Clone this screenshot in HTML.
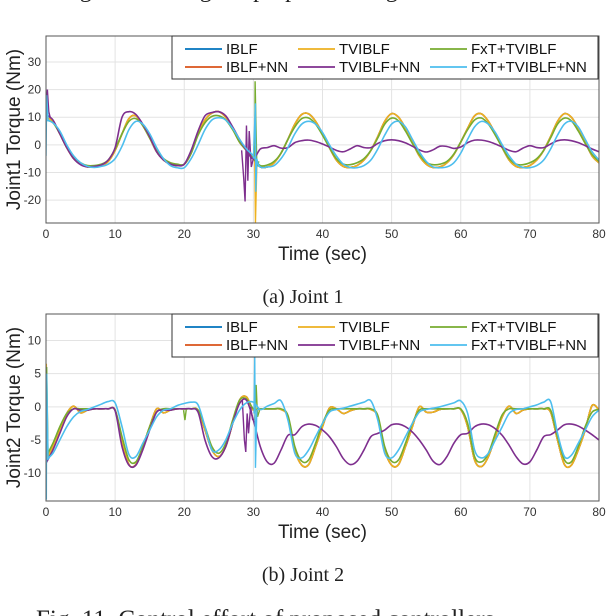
<!DOCTYPE html>
<html><head><meta charset="utf-8">
<style>
body{margin:0;background:#fff;width:606px;height:616px;overflow:hidden;font-family:"Liberation Sans",sans-serif;}
svg{position:absolute;left:0;top:0}
</style></head>
<body>
<svg id="svg" width="606" height="616" xmlns="http://www.w3.org/2000/svg">
<text x="6" y="-3" font-family="Liberation Serif,serif" font-size="24" fill="#222">Tracking errors using the proposed designs</text>
<text x="303" y="303" text-anchor="middle" font-family="Liberation Serif,serif" font-size="20" fill="#222">(a) Joint 1</text>
<text x="303" y="581" text-anchor="middle" font-family="Liberation Serif,serif" font-size="20" fill="#222">(b) Joint 2</text>
<text x="36" y="627" font-family="Liberation Serif,serif" font-size="25" fill="#222">Fig. 11. Control effort of proposed controllers.</text>
</svg>
<script>
const seriesNames=["IBLF","IBLF+NN","TVIBLF","TVIBLF+NN","FxT+TVIBLF","FxT+TVIBLF+NN"];
const seriesColors=["#0072BD","#D95319","#EDB120","#7E2F8E","#77AC30","#4DBEEE"];
const xTicks=[0,10,20,30,40,50,60,70,80];
const yTicks1=[-20,-10,0,10,20,30];
const yTicks2=[-10,-5,0,5,10];

const j1Tv=[10,8.5,4,-1,-5,-7,-8,-8,-7.5,-6,-2,4,9.5,10.5,7,2.5,-2.5,-5.5,-7,-7.5,-7,-3,4,9,11.5,12,10,6,1,-2,-5,-8,-8,-6.5,-3,2,7.5,11,11.2,8.5,4,-1,-5.5,-7.8,-8.2,-7.5,-5.5,-2,3,8.5,11.3,10,6,1,-4,-7,-8.2,-8,-6.5,-3.5,1,6,10.5,11.2,8.5,4,-1,-5.5,-7.8,-8.2,-7.5,-5.5,-2,3,8.5,11.3,10,6,1,-4,-6.5];
const j1Fx=[9,8,4,-1,-4.5,-6.5,-7.5,-7.5,-7,-5.5,-1.5,4,8.5,9.5,7,2.5,-2,-5,-6.5,-7,-7,-3,3.5,8,10.3,10.5,9,5.5,1,-2,-5,-7.5,-7.3,-6,-3,2,6.5,9.5,9.7,7.5,3.5,-1,-5,-7,-7.2,-6.5,-5,-2,2.5,7.5,9.7,8.7,5,0.5,-3.5,-6.3,-7.2,-7,-6,-3.3,1,5.5,9,9.7,7.5,3.5,-1,-5,-7,-7.2,-6.5,-5,-2,2.5,7.5,9.7,8.7,5,0.5,-3.5,-6];
const j1FxNN=[9,8,5,0,-4,-6.5,-7.8,-8.2,-7.8,-7,-5,-0.5,5.5,8.5,7.5,4,-1,-5,-7.5,-8.3,-8.3,-5,0,5.5,9,9.8,9,6,2,-1.5,-4,-8,-8,-7.5,-5,-1,4,7.5,8.5,7.5,4.5,0,-4,-7,-8.2,-8.3,-7.5,-5.5,-1.5,3.5,7.5,8.5,6.5,2,-2.5,-6,-8,-8.3,-8,-6.5,-3,2,6.5,8.5,7.5,4.5,0,-4,-7,-8.2,-8.3,-7.5,-5.5,-1.5,3.5,7.5,8.5,6.5,2,-2.5,-5.5];
const j1TvNN=[11,9,4,-1,-5,-7.2,-8,-7.8,-7.3,-5.5,-1,10,12,11,7.5,3,-2.5,-5.5,-7,-7.5,-7,-2,5,10.5,11.7,12,10.5,6.5,2,-2,-5,-1.5,-1,-0.3,-1.2,-1,0.8,1.5,1.7,1.2,0.3,-0.8,-2,-2.5,-1.5,-0.3,-1,-1,0.5,1.5,1.8,1.5,0.7,-0.5,-1.8,-2.6,-1.8,-0.5,-0.6,-1.3,-0.8,0.8,1.7,1.7,1.2,0.3,-0.8,-2,-2.5,-1.2,-0.3,-1,-1,0.3,1.5,1.8,1.5,0.8,-0.3,-1.5,-2.5];

const j2Tv=[-8,-6,-3.5,-1,0.1,-0.9,-0.5,-0.3,-0.3,-0.3,-0.5,-5,-8.7,-8.7,-6,-3,-0.3,-0.9,-0.5,-0.3,-0.3,-0.3,-0.5,-3.5,-6.5,-7.5,-6,-2.5,1,1.5,-0.5,-0.3,-0.3,-0.3,-0.4,-1.5,-6.5,-8.8,-8.7,-6,-3,-0.2,-0.3,-1,-0.6,-0.3,-0.3,-0.4,-1.5,-6.5,-8.8,-8.7,-6,-3,0,-0.8,-0.8,-0.4,-0.3,-0.3,-0.4,-3,-8,-9,-7.5,-4.5,-1.5,0.1,-1,-0.5,-0.3,-0.3,-0.3,-0.8,-5,-8.7,-8.8,-6.5,-3.5,0.2,-0.5];
const j2Fx=[-7.5,-5.5,-3,-1,-0.3,-0.3,-0.3,-0.3,-0.3,-0.3,-0.5,-4.5,-8,-8.3,-6,-3,-0.8,-0.3,-0.3,-0.3,-0.3,-0.3,-0.5,-3,-6,-7,-5.5,-2,1,1.2,-0.3,-0.3,-0.3,-0.3,-0.3,-1.3,-6,-8.2,-8,-5.5,-2.5,-0.5,-0.3,-0.3,-0.3,-0.3,-0.3,-0.3,-1.3,-6,-8.2,-8,-5.5,-2.5,-0.5,-0.3,-0.3,-0.3,-0.3,-0.3,-0.3,-2.5,-7.5,-8.3,-7,-4,-1.2,-0.3,-0.3,-0.3,-0.3,-0.3,-0.3,-0.5,-4.5,-8,-8.3,-6,-3,-0.8,-0.4];
const j2FxNN=[-8,-7,-5,-3,-1.5,-0.7,-0.4,0,0.4,0.8,0.6,-3,-7.2,-7.5,-5.5,-3.5,-1.5,-0.5,-0.3,0.2,0.5,0.7,0.3,-3,-6.5,-6.5,-5,-2.5,-0.5,0.6,0.7,-0.4,0.1,0.5,0.9,-2,-7,-7.7,-6.5,-4.5,-2.5,-0.8,-0.4,-0.2,0.1,0.4,0.7,0.9,-2,-7,-7.7,-6.5,-4.5,-2.5,-0.8,-0.4,-0.2,0,0.3,0.6,0.9,-1,-6.5,-7.7,-7,-5,-3,-1,-0.4,-0.3,0,0.3,0.7,0.8,-4,-7.5,-7.3,-5.5,-3.5,-1.5,-0.5];
const j2TvNN=[-8.5,-6.5,-4,-1.5,-0.3,-0.5,-0.5,-0.3,-0.3,-0.3,-0.6,-6,-8.8,-8.8,-6.5,-3.5,-0.8,-0.5,-0.5,-0.3,-0.3,-0.3,-0.8,-5,-7.5,-7.7,-6,-2.5,0.5,1,-2,-6,-8.3,-8.5,-6.5,-4.3,-4.2,-3,-2.6,-2.8,-3.5,-4.5,-6,-7.8,-8.7,-8.2,-6.5,-4.5,-4,-3.5,-2.7,-2.6,-3,-3.8,-5,-6.5,-8.2,-8.7,-7.5,-5.5,-4.2,-4,-3,-2.6,-2.7,-3.3,-4.3,-5.8,-7.5,-8.6,-8.3,-6.5,-4.5,-4.2,-3.5,-2.7,-2.6,-2.9,-3.5,-4.2,-5];

const j1SpikeSeries=[2,3,3,4,5,5];
const j1SpikeT=[[29.9,30.2,30.3,30.5],[0,0.2,0.4,0.6],[28.3,28.6,28.8,29,29.2,29.4,29.7,30],[29.9,30.2,30.25,30.5,30.8],[0,0.1,0.3],[30,30.3,30.35,30.5,30.8]];
const j1SpikeV=[[-5,-5,-28.3,-7],[11,20,12,10],[-2,-12,-20.5,7,-13,5,-8,-5],[-5,-5,23,-8,-6],[-4,18,9],[-5,15,-17,-5,-8]];
const j2SpikeSeries=[2,3,4,4,4,5,5];
const j2SpikeT=[[0,0.05,0.2],[28.4,28.7,28.9,29.1,29.3,29.6,29.9],[0,0.1,0.3],[19.9,20.1,20.3],[30.2,30.4,30.6,30.9],[0,0.05,0.1,0.3],[30.1,30.2,30.3,30.5,30.8]];
const j2SpikeV=[[-8,6.5,-7.5],[1,-5,-6.8,-1,-4,0,-2],[-8,6,-7.5],[-0.5,-2,-0.3],[-2,3.3,-1.5,-0.5],[-8,-14,5,-8],[-1,7.5,-9.2,-0.5,-0.3]];

const NS="http://www.w3.org/2000/svg";
const svg=document.getElementById('svg');
function mk(tag,attrs,parent){const e=document.createElementNS(NS,tag);for(const k in attrs)e.setAttribute(k,attrs[k]);(parent||svg).appendChild(e);return e;}

function chart(cfg){
  const L=46,R=599,T=cfg.top,B=cfg.bottom;
  const sx=t=>L+(t-0)/(80-0)*(R-L);
  const sy=v=>B-(v-cfg.ymin)/(cfg.ymax-cfg.ymin)*(B-T);
  const g=mk('g',{});
  
  
  mk('rect',{x:L,y:T,width:R-L,height:B-T,fill:'#fff'},g);
  xTicks.forEach(t=>{
    const l=mk('line',{x1:sx(t),x2:sx(t),y1:T,y2:B,stroke:'#e3e3e3','stroke-width':1},g);
    
    const tx=mk('text',{x:sx(t),y:B+15,'text-anchor':'middle','font-size':12,fill:'#333'},g);
    tx.textContent=t;
    
  });
  cfg.yt.forEach(v=>{
    const l=mk('line',{x1:L,x2:R,y1:sy(v),y2:sy(v),stroke:'#e3e3e3','stroke-width':1},g);
    
    const tx=mk('text',{x:L-5,y:sy(v)+4,'text-anchor':'end','font-size':12,fill:'#333'},g);
    tx.textContent=v;
    
  });
  const clip=mk('clipPath',{id:cfg.name+'-clip'},g);
  mk('rect',{x:L,y:T,width:R-L,height:B-T},clip);
  const pg=mk('g',{'clip-path':'url(#'+cfg.name+'-clip)'},g);
  const order=[0,1,2,4,3,5];
  order.forEach(i=>{
    const vals=cfg.data[i];
    const pts=vals.map((v,t)=>[sx(t),sy(v)]);
    let d='M'+pts[0][0]+','+pts[0][1];
    for(let k=0;k<pts.length-1;k++){
      const p0=pts[Math.max(0,k-1)],p1=pts[k],p2=pts[k+1],p3=pts[Math.min(pts.length-1,k+2)];
      const c1=[p1[0]+(p2[0]-p0[0])/6,p1[1]+(p2[1]-p0[1])/6];
      const c2=[p2[0]-(p3[0]-p1[0])/6,p2[1]-(p3[1]-p1[1])/6];
      d+=`C${c1[0]},${c1[1]} ${c2[0]},${c2[1]} ${p2[0]},${p2[1]}`;
    }
    const p=mk('path',{d:d,fill:'none',stroke:seriesColors[i],'stroke-width':1.6},pg);
    
    
    cfg.spikeSeries.forEach((s,si)=>{
      if(s!==i)return;
      const sp=cfg.spikeT[si].map((t,k)=>sx(t)+','+sy(cfg.spikeV[si][k])).join(' ');
      const pl=mk('polyline',{points:sp,fill:'none',stroke:seriesColors[i],'stroke-width':1.4},pg);
      
      
    });
  });
  mk('rect',{x:L,y:T,width:R-L,height:B-T,fill:'none',stroke:'#555','stroke-width':1},g);
  const lg=mk('g',{},g);
  
  mk('rect',{x:172,y:T,width:426,height:43,fill:'#fff',stroke:'#333','stroke-width':1},lg);
  const cols=[185,298,430], rows=[T+13,T+31];
  [0,2,4,1,3,5].forEach((i,k)=>{
    const c=k%3, r=Math.floor(k/3);
    const x=cols[c], y=rows[r];
    mk('line',{x1:x,x2:x+37,y1:y,y2:y,stroke:seriesColors[i],'stroke-width':1.8},lg);
    const tx=mk('text',{x:x+41,y:y+5,'font-size':15,fill:'#111'},lg);
    tx.textContent=seriesNames[i];
    
  });
  const xt=mk('text',{x:(L+R)/2,y:B+37,'text-anchor':'middle','font-size':19,fill:'#222'},g);
  xt.textContent='Time (sec)';
  
  const yt=mk('text',{x:0,y:0,'text-anchor':'middle','font-size':19,fill:'#222',transform:`translate(20,${(T+B)/2}) rotate(-90)`},g);
  yt.textContent=cfg.ytitle;
  
}
chart({name:'joint1-chart',top:36,bottom:223,ymin:-28.3,ymax:39.4,yt:yTicks1,ytitle:'Joint1 Torque (Nm)',
  data:[j1Tv,j1Tv,j1Tv,j1TvNN,j1Fx,j1FxNN],spikeSeries:j1SpikeSeries,spikeT:j1SpikeT,spikeV:j1SpikeV});
chart({name:'joint2-chart',top:314,bottom:501,ymin:-14.2,ymax:14,yt:yTicks2,ytitle:'Joint2 Torque (Nm)',
  data:[j2Tv,j2Tv,j2Tv,j2TvNN,j2Fx,j2FxNN],spikeSeries:j2SpikeSeries,spikeT:j2SpikeT,spikeV:j2SpikeV});
</script>
</body></html>
